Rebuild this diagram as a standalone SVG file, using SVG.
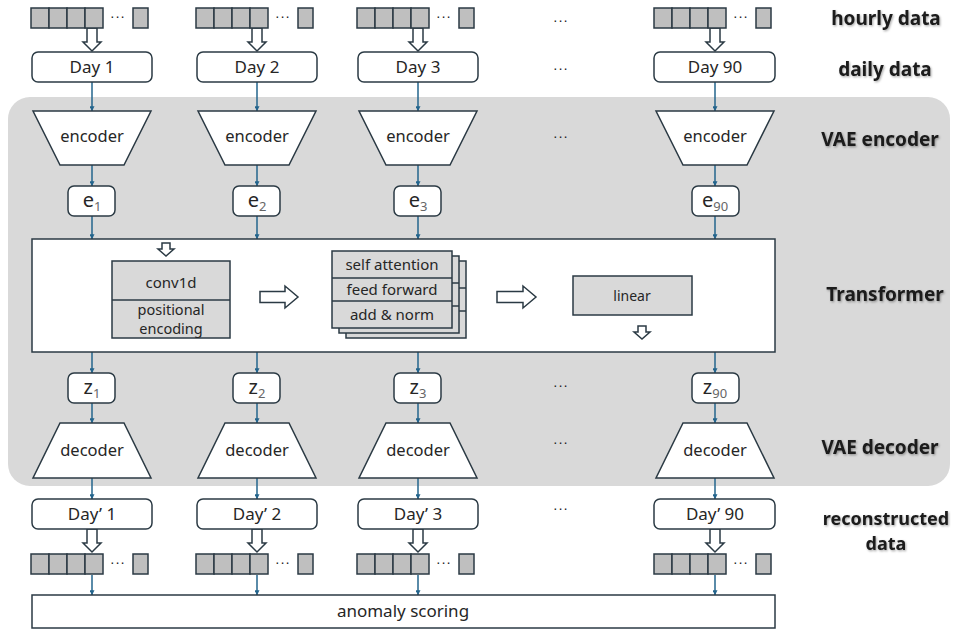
<svg xmlns="http://www.w3.org/2000/svg" xmlns:xlink="http://www.w3.org/1999/xlink" width="954" height="631" viewBox="0 0 954 631">
<defs>
<style>
.box{fill:#fff;stroke:#2b3a44;stroke-width:1.5}
.sq{fill:#bfbfbf;stroke:#2b3a44;stroke-width:1.5}
.gr{fill:#d9d9d9;stroke:#2b3a44;stroke-width:1.5}
.blk{fill:#fff;stroke:#2b3a44;stroke-width:1.5;stroke-linejoin:miter}
.t{font-family:"Noto Sans","Open Sans","DejaVu Sans",sans-serif;fill:#262626;text-anchor:middle}
.day{font-size:17px}
.enc{font-size:16.5px}
.ev{font-size:20px}
.sub{font-size:13px;fill:#666}
.in{font-size:15px}
.dots{font-family:"DejaVu Sans",sans-serif;font-size:13px;fill:#222;text-anchor:middle;letter-spacing:1px}
.lab{font-family:"Noto Sans","Open Sans",sans-serif;font-size:19px;font-weight:bold;fill:#1a1a1a;text-anchor:middle;filter:url(#sh)}
.con{stroke:#23648c;stroke-width:1.5;fill:none;marker-end:url(#ah)}
</style>
<filter id="sh" x="-10%" y="-30%" width="120%" height="160%">
<feDropShadow dx="1" dy="1.2" stdDeviation="0.8" flood-color="#000" flood-opacity="0.35"/>
</filter>
<marker id="ah" viewBox="0 0 8 8" refX="7.5" refY="4" markerWidth="5" markerHeight="5" markerUnits="userSpaceOnUse" orient="auto">
<path d="M0,0 L8,4 L0,8 z" fill="#23648c"/>
</marker>
<path id="dn" d="M-5,0 H5 V14 H9 L0,23 L-9,14 H-5 Z"/>
<path id="dnS" d="M-4,0 H4 V6 H8 L0,13 L-8,6 H-4 Z"/>
<g id="hr">
<rect class="sq" x="-61" y="0" width="18" height="20"/>
<rect class="sq" x="-43" y="0" width="18" height="20"/>
<rect class="sq" x="-25" y="0" width="18" height="20"/>
<rect class="sq" x="-7" y="0" width="18" height="20"/>
<rect class="sq" x="41" y="0" width="15" height="20"/>
</g>
</defs>
<rect width="954" height="631" fill="#fff"/>
<rect x="8" y="97" width="942" height="389" rx="22" fill="#d9d9d9"/>

<g id="connectors">
<line class="con" x1="92" y1="82" x2="92" y2="111"/>
<line class="con" x1="257" y1="82" x2="257" y2="111"/>
<line class="con" x1="418" y1="82" x2="418" y2="111"/>
<line class="con" x1="715" y1="82" x2="715" y2="111"/>
<line class="con" x1="92" y1="165" x2="92" y2="186"/>
<line class="con" x1="257" y1="165" x2="257" y2="186"/>
<line class="con" x1="418" y1="165" x2="418" y2="186"/>
<line class="con" x1="715" y1="165" x2="715" y2="186"/>
<line class="con" x1="92" y1="216" x2="92" y2="239"/>
<line class="con" x1="257" y1="216" x2="257" y2="239"/>
<line class="con" x1="418" y1="216" x2="418" y2="239"/>
<line class="con" x1="715" y1="216" x2="715" y2="239"/>
<line class="con" x1="92" y1="352" x2="92" y2="373"/>
<line class="con" x1="257" y1="352" x2="257" y2="373"/>
<line class="con" x1="418" y1="352" x2="418" y2="373"/>
<line class="con" x1="715" y1="352" x2="715" y2="373"/>
<line class="con" x1="92" y1="403" x2="92" y2="423"/>
<line class="con" x1="257" y1="403" x2="257" y2="423"/>
<line class="con" x1="418" y1="403" x2="418" y2="423"/>
<line class="con" x1="715" y1="403" x2="715" y2="423"/>
<line class="con" x1="92" y1="478" x2="92" y2="499"/>
<line class="con" x1="257" y1="478" x2="257" y2="499"/>
<line class="con" x1="418" y1="478" x2="418" y2="499"/>
<line class="con" x1="715" y1="478" x2="715" y2="499"/>
<line class="con" x1="92" y1="575" x2="92" y2="595"/>
<line class="con" x1="257" y1="575" x2="257" y2="595"/>
<line class="con" x1="418" y1="575" x2="418" y2="595"/>
<line class="con" x1="715" y1="575" x2="715" y2="595"/>
<use href="#dn" class="blk" x="92" y="28"/>
<use href="#dn" class="blk" x="257" y="28"/>
<use href="#dn" class="blk" x="418" y="28"/>
<use href="#dn" class="blk" x="715" y="28"/>
<use href="#dn" class="blk" x="92" y="529"/>
<use href="#dn" class="blk" x="257" y="529"/>
<use href="#dn" class="blk" x="418" y="529"/>
<use href="#dn" class="blk" x="715" y="529"/>
</g>

<g id="hourly">
<use href="#hr" x="92" y="8"/><text class="dots" x="118" y="22">···</text>
<use href="#hr" x="257" y="8"/><text class="dots" x="283" y="22">···</text>
<use href="#hr" x="418" y="8"/><text class="dots" x="444" y="22">···</text>
<use href="#hr" x="715" y="8"/><text class="dots" x="741" y="22">···</text>
<text class="dots" x="561" y="26">···</text>
</g>

<g id="daily">
<rect class="box" x="32" y="52" width="120" height="30" rx="6"/><text class="t day" x="92" y="73">Day 1</text>
<rect class="box" x="197" y="52" width="120" height="30" rx="6"/><text class="t day" x="257" y="73">Day 2</text>
<rect class="box" x="358" y="52" width="120" height="30" rx="6"/><text class="t day" x="418" y="73">Day 3</text>
<rect class="box" x="654" y="52" width="121" height="30" rx="6"/><text class="t day" x="715" y="73">Day 90</text>
<text class="dots" x="561" y="74">···</text>
</g>

<g id="encoders">
<polygon class="box" points="33,111 151,111 124,165 60,165"/><text class="t enc" x="92" y="142">encoder</text>
<polygon class="box" points="198,111 316,111 289,165 225,165"/><text class="t enc" x="257" y="142">encoder</text>
<polygon class="box" points="359,111 477,111 450,165 386,165"/><text class="t enc" x="418" y="142">encoder</text>
<polygon class="box" points="656,111 774,111 747,165 683,165"/><text class="t enc" x="715" y="142">encoder</text>
<text class="dots" x="561" y="142">···</text>
</g>

<g id="embeddings">
<rect class="box" x="68" y="186" width="47" height="30" rx="6"/><text class="t ev" x="92" y="207">e<tspan class="sub" dy="4">1</tspan></text>
<rect class="box" x="233" y="186" width="47" height="30" rx="6"/><text class="t ev" x="257" y="207">e<tspan class="sub" dy="4">2</tspan></text>
<rect class="box" x="394" y="186" width="47" height="30" rx="6"/><text class="t ev" x="418" y="207">e<tspan class="sub" dy="4">3</tspan></text>
<rect class="box" x="692" y="186" width="47" height="30" rx="6"/><text class="t ev" x="715" y="207">e<tspan class="sub" dy="4">90</tspan></text>
</g>

<g id="transformer">
<rect class="box" x="32" y="239" width="743" height="113"/>
<use href="#dnS" class="blk" x="166" y="243"/>
<rect class="gr" x="112" y="261" width="118" height="77"/>
<line x1="112" y1="300" x2="230" y2="300" stroke="#2b3a44" stroke-width="1.5"/>
<text class="t in" x="171" y="288">conv1d</text>
<text class="t in" x="171" y="315" style="font-size:14.5px">positional</text>
<text class="t in" x="171" y="334" style="font-size:14.5px">encoding</text>
<path class="blk" d="M260,291.5 H285 V286 L298,297 L285,308 V302.5 H260 Z"/>
<rect class="gr" x="346" y="261" width="120" height="77"/>
<line x1="346" y1="288" x2="466" y2="288" stroke="#2b3a44" stroke-width="1.5"/>
<line x1="346" y1="311" x2="466" y2="311" stroke="#2b3a44" stroke-width="1.5"/>
<rect class="gr" x="339" y="256" width="120" height="77"/>
<line x1="339" y1="283" x2="459" y2="283" stroke="#2b3a44" stroke-width="1.5"/>
<line x1="339" y1="306" x2="459" y2="306" stroke="#2b3a44" stroke-width="1.5"/>
<rect class="gr" x="332" y="251" width="120" height="77"/>
<line x1="332" y1="278" x2="452" y2="278" stroke="#2b3a44" stroke-width="1.5"/>
<line x1="332" y1="301" x2="452" y2="301" stroke="#2b3a44" stroke-width="1.5"/>
<text class="t in" x="392" y="270">self attention</text>
<text class="t in" x="392" y="295">feed forward</text>
<text class="t in" x="392" y="320">add &amp; norm</text>
<path class="blk" d="M497,291.5 H523 V286 L536,297 L523,308 V302.5 H497 Z"/>
<rect class="gr" x="573" y="276" width="119" height="39"/>
<text class="t in" x="632" y="301" style="font-size:14px">linear</text>
<use href="#dnS" class="blk" x="642" y="326"/>
</g>

<g id="latents">
<rect class="box" x="68" y="373" width="47" height="30" rx="6"/><text class="t ev" x="92" y="394">z<tspan class="sub" dy="4">1</tspan></text>
<rect class="box" x="233" y="373" width="47" height="30" rx="6"/><text class="t ev" x="257" y="394">z<tspan class="sub" dy="4">2</tspan></text>
<rect class="box" x="394" y="373" width="47" height="30" rx="6"/><text class="t ev" x="418" y="394">z<tspan class="sub" dy="4">3</tspan></text>
<rect class="box" x="692" y="373" width="47" height="30" rx="6"/><text class="t ev" x="715" y="394">z<tspan class="sub" dy="4">90</tspan></text>
<text class="dots" x="561" y="391">···</text>
</g>

<g id="decoders">
<polygon class="box" points="60,423 124,423 151,478 33,478"/><text class="t enc" x="92" y="456">decoder</text>
<polygon class="box" points="225,423 289,423 316,478 198,478"/><text class="t enc" x="257" y="456">decoder</text>
<polygon class="box" points="386,423 450,423 477,478 359,478"/><text class="t enc" x="418" y="456">decoder</text>
<polygon class="box" points="683,423 747,423 774,478 656,478"/><text class="t enc" x="715" y="456">decoder</text>
<text class="dots" x="561" y="448">···</text>
</g>

<g id="reconstructed">
<rect class="box" x="32" y="499" width="120" height="30" rx="6"/><text class="t day" x="92" y="520">Day’ 1</text>
<rect class="box" x="197" y="499" width="120" height="30" rx="6"/><text class="t day" x="257" y="520">Day’ 2</text>
<rect class="box" x="358" y="499" width="120" height="30" rx="6"/><text class="t day" x="418" y="520">Day’ 3</text>
<rect class="box" x="654" y="499" width="121" height="30" rx="6"/><text class="t day" x="715" y="520">Day’ 90</text>
<text class="dots" x="561" y="514">···</text>
</g>

<g id="hourly-reconstructed">
<use href="#hr" x="92" y="554"/><text class="dots" x="118" y="568">···</text>
<use href="#hr" x="257" y="554"/><text class="dots" x="283" y="568">···</text>
<use href="#hr" x="418" y="554"/><text class="dots" x="444" y="568">···</text>
<use href="#hr" x="715" y="554"/><text class="dots" x="741" y="568">···</text>
</g>

<g id="anomaly">
<rect class="box" x="32" y="595" width="743" height="33"/>
<text class="t day" x="403" y="617">anomaly scoring</text>
</g>

<g id="labels">
<text class="lab" x="886" y="25">hourly data</text>
<text class="lab" x="885" y="76">daily data</text>
<text class="lab" x="880" y="146">VAE encoder</text>
<text class="lab" x="885" y="301">Transformer</text>
<text class="lab" x="880" y="454">VAE decoder</text>
<text class="lab" x="886" y="525" style="font-size:18px">reconstructed</text>
<text class="lab" x="886" y="550" style="font-size:18px">data</text>
</g>
</svg>
